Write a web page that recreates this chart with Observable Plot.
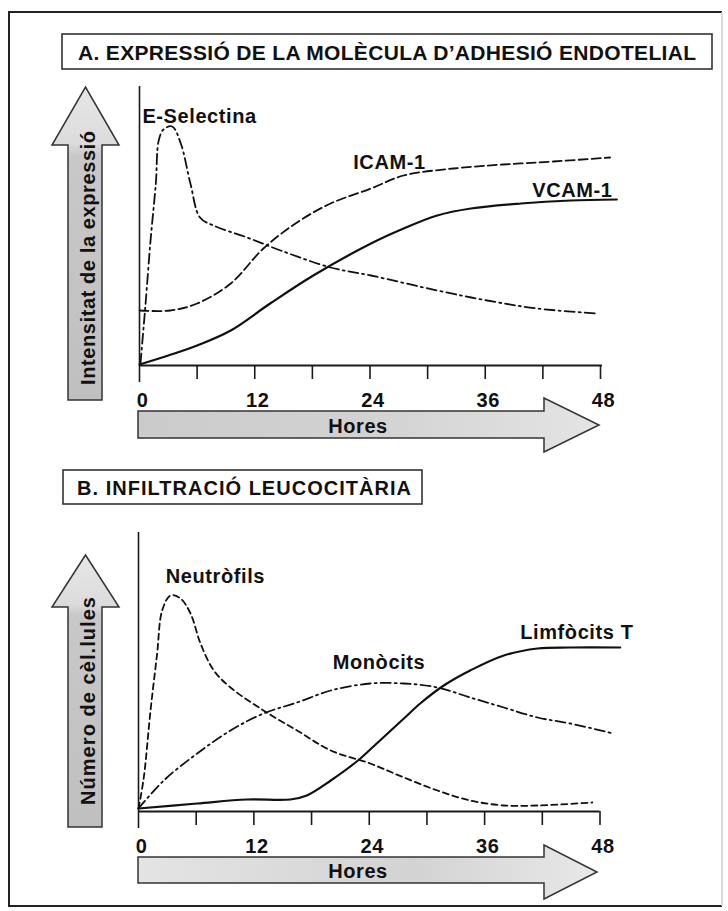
<!DOCTYPE html>
<html><head><meta charset="utf-8">
<script src="https://cdn.jsdelivr.net/npm/d3@7"></script>
<script src="https://cdn.jsdelivr.net/npm/@observablehq/plot@0.6"></script>
<style>
html,body{margin:0;padding:0;background:#fff;}
#page{position:relative;width:728px;height:911px;overflow:hidden;font-family:"Liberation Sans",Arial,sans-serif;}
#page svg{position:absolute;left:0;}
</style></head><body><div id="page"></div>
<script>
// ---------- data ----------
const tickHours = [0, 6, 12, 18, 24, 30, 36, 42, 48];
const tickLabels = [0, 12, 24, 36, 48];

// Panel A: expression of endothelial adhesion molecules
const eselHours  = [0.1, 0.6, 1.15, 1.7, 2.0, 2.5, 3.4, 4.3, 5.3, 6.3, 7.7, 11.2, 14.7, 19.9, 24.1, 31, 36.2, 41.4, 47.7];
const eselValues = [2, 58, 125, 182, 225, 236, 239, 222, 182, 148, 140, 128, 115, 98, 90, 75, 65, 57, 52];
const icamHours  = [0, 3.2, 6, 9.5, 12.9, 16.4, 19.9, 24.1, 27.5, 32.7, 37.9, 43.1, 49];
const icamValues = [55, 55, 62, 82, 117, 143, 162, 177, 190, 197, 201, 204, 208];
const vcamHours  = [0, 3, 6, 9.5, 13.6, 18.1, 24.1, 27.5, 31, 34.5, 39.7, 44.9, 49.7];
const vcamValues = [1, 10, 20, 35, 62, 90, 122, 137, 150, 157, 162, 165, 166];
const labelsA      = ["E-Selectina", "ICAM-1", "VCAM-1"];
const labelAHours  = [0.3, 22.25, 40.9];
const labelAValues = [243, 197, 169];

// Panel B: leukocyte infiltration
const neutHours  = [0, 0.55, 1.25, 1.94, 2.46, 3.33, 4.37, 5.41, 6.45, 7.83, 9.57, 13.0, 16.5, 20.0, 24.1, 27.6, 31.1, 34.5, 38.0, 41.5, 47.2];
const neutValues = [3, 34, 101, 158, 201, 216, 213, 198, 168, 141, 124, 101, 81, 61, 48, 34, 21, 11, 6, 6, 9];
const monoHours  = [0, 2.63, 6.1, 9.57, 13.0, 16.5, 20.0, 24.1, 27.6, 31.1, 34.5, 38.0, 41.5, 44.9, 49.4];
const monoValues = [3, 31, 58, 81, 98, 109, 121, 128, 128, 124, 114, 104, 94, 88, 78];
const limfHours  = [0, 6.1, 11.3, 15.8, 17.5, 20.0, 22.7, 24.1, 27.6, 29.3, 31.75, 34.5, 38.0, 41.5, 44.9, 50.1];
const limfValues = [3, 8, 12, 12, 16, 31, 50, 62, 93, 108, 126, 141, 156, 163, 164, 164];
const labelsB      = ["Neutròfils", "Monòcits", "Limfòcits T"];
const labelBHours  = [2.83, 20.2, 39.7];
const labelBValues = [229, 143, 173];

const titleA = "A. EXPRESSIÓ DE LA MOLÈCULA D’ADHESIÓ ENDOTELIAL";
const titleB = "B. INFILTRACIÓ LEUCOCITÀRIA";
const yTitleA = "Intensitat de la expressió";
const yTitleB = "Número de cèl.lules";
const xTitle = "Hores";

// ---------- decoration (frame, title boxes, arrows) ----------
const page = document.getElementById("page");
const FONT = "'Liberation Sans', Arial, sans-serif";
const deco = d3.create("svg").attr("width", 728).attr("height", 911).style("top", "0px");
const defs = deco.append("defs");
function grad(id, x2, y2, stops) {
  const g = defs.append("linearGradient").attr("id", id).attr("x1", 0).attr("y1", y2 ? 1 : 0).attr("x2", x2).attr("y2", 0);
  stops.forEach(([o, c]) => g.append("stop").attr("offset", o).attr("stop-color", c));
}
grad("gy", 0, 1, [[0, "#c0c0c0"], [0.78, "#c8c8c8"], [0.82, "#dcdcdc"], [1, "#e6e6e6"]]);
grad("gxa", 1, 0, [[0, "#cbcbcb"], [0.5, "#d2d2d2"], [1, "#e4e4e4"]]);
grad("gxb", 1, 0, [[0, "#e4e4e4"], [0.6, "#d3d3d3"], [1, "#e8e8e8"]]);

// frame
deco.append("path").attr("d", "M722,12 L9,12 L9,906 L722,906").attr("fill", "none").attr("stroke", "#222").attr("stroke-width", 2);
deco.append("path").attr("d", "M722,12 L722,906").attr("stroke", "#cfcfcf").attr("stroke-width", 1.5);

// title boxes
deco.append("rect").attr("x", 62).attr("y", 34).attr("width", 650).attr("height", 35).attr("fill", "#fff").attr("stroke", "#333").attr("stroke-width", 1.6);
deco.append("text").attr("x", 78).attr("y", 60).attr("textLength", 618).attr("lengthAdjust", "spacing")
  .attr("font-family", FONT).attr("font-weight", "bold").attr("font-size", 21).attr("fill", "#111").text(titleA);
deco.append("rect").attr("x", 63).attr("y", 470).attr("width", 359).attr("height", 34).attr("fill", "#fff").attr("stroke", "#333").attr("stroke-width", 1.6);
deco.append("text").attr("x", 77).attr("y", 495).attr("textLength", 334).attr("lengthAdjust", "spacing")
  .attr("font-family", FONT).attr("font-weight", "bold").attr("font-size", 20).attr("fill", "#111").text(titleB);

// y arrows
function yArrow(bottom, headBase, tip, txt, txtStart, txtLen) {
  deco.append("path")
    .attr("d", `M68,${bottom} L102,${bottom} L102,${headBase} L119,${headBase} L85.5,${tip} L52,${headBase} L68,${headBase} Z`)
    .attr("fill", "url(#gy)").attr("stroke", "#333").attr("stroke-width", 1.5);
  deco.append("text").attr("transform", `translate(95,${txtStart}) rotate(-90)`)
    .attr("textLength", txtLen).attr("lengthAdjust", "spacing")
    .attr("font-family", FONT).attr("font-weight", "bold").attr("font-size", 20).attr("fill", "#111").text(txt);
}
yArrow(400, 145, 87, yTitleA, 385, 254);
yArrow(827, 607, 555, yTitleB, 805, 208);

// x arrows
function xArrow(top, bottom, headTop, headBottom, tipX, fill, txtBase) {
  const mid = (headTop + headBottom) / 2;
  deco.append("path")
    .attr("d", `M138,${top} L544,${top} L544,${headTop} L${tipX},${mid} L544,${headBottom} L544,${bottom} L138,${bottom} Z`)
    .attr("fill", fill).attr("stroke", "#333").attr("stroke-width", 1.5);
  deco.append("text").attr("x", 358).attr("y", txtBase).attr("text-anchor", "middle")
    .attr("font-family", FONT).attr("font-weight", "bold").attr("font-size", 20).attr("letter-spacing", "0.6px").attr("fill", "#111").text(xTitle);
}
xArrow(411, 438, 398, 452, 599, "url(#gxa)", 433);
xArrow(857, 883, 845, 899, 597, "url(#gxb)", 878);

page.appendChild(deco.node());

// ---------- plots ----------
function series(hours, values) { return hours.map((h, i) => ({h, v: values[i]})); }

function panel({top, height, xRange, yRange, lines, labels, labelHours, labelValues, axisEnd}) {
  const idx = d3.range(labels.length);
  const marks = [
    Plot.ruleY([0], {x1: 0, x2: axisEnd, stroke: "#1a1a1a", strokeWidth: 2}),
    Plot.ruleX([0], {y1: -17, y2: 279, stroke: "#1a1a1a", strokeWidth: 1.6}),
    Plot.ruleX(tickHours.slice(1), {x: d => d, y1: 0, y2: -14, stroke: "#1a1a1a", strokeWidth: 1.6}),
    Plot.text(tickLabels, {x: d => d, y: -35, text: d => String(d), fontSize: 20, fontWeight: "bold", dx: 3, fill: "#111"}),
    ...lines.map(l => Plot.line(series(l.hours, l.values), {
      x: "h", y: "v", curve: "catmull-rom", stroke: "#111",
      strokeWidth: l.width, strokeDasharray: l.dash
    })),
    Plot.text(idx, {x: i => labelHours[i], y: i => labelValues[i], text: i => labels[i],
      textAnchor: "start", lineAnchor: "bottom", fontSize: 20, fontWeight: "bold", fill: "#111"})
  ];
  const svg = Plot.plot({
    width: 728, height,
    x: {domain: [0, 48], range: xRange, axis: null},
    y: {domain: [0, 280], range: yRange, axis: null},
    style: {background: "transparent", fontFamily: FONT, letterSpacing: "0.6px", overflow: "visible"},
    marks
  });
  svg.style.top = top + "px";
  svg.style.maxWidth = "none";
  page.appendChild(svg);
}

panel({
  top: 0, height: 455, xRange: [139, 600], yRange: [365, 85], axisEnd: 48.2,
  lines: [
    {hours: eselHours, values: eselValues, dash: "10,4,2,4", width: 1.8},
    {hours: icamHours, values: icamValues, dash: "9,4", width: 1.8},
    {hours: vcamHours, values: vcamValues, dash: null, width: 2.2}
  ],
  labels: labelsA, labelHours: labelAHours, labelValues: labelAValues
});

panel({
  top: 455, height: 456, xRange: [138, 599.5], yRange: [356, 76], axisEnd: 48,
  lines: [
    {hours: neutHours, values: neutValues, dash: "6,4", width: 1.8},
    {hours: monoHours, values: monoValues, dash: "10,4,2,4", width: 1.8},
    {hours: limfHours, values: limfValues, dash: null, width: 2.2}
  ],
  labels: labelsB, labelHours: labelBHours, labelValues: labelBValues
});
</script></body></html>
